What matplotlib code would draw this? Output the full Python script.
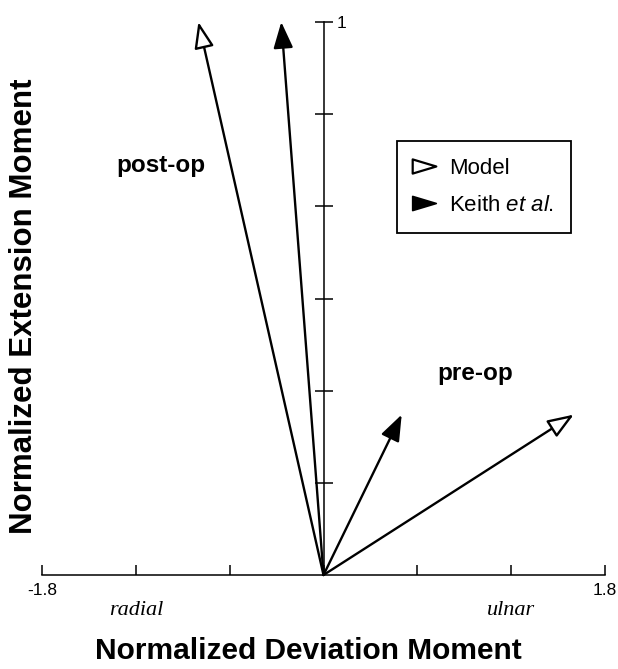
import numpy as np
import matplotlib.pyplot as plt
from matplotlib.lines import Line2D
from matplotlib.path import Path

plt.rcParams['font.family'] = ['Liberation Sans', 'DejaVu Sans']
plt.rcParams['mathtext.fontset'] = 'custom'
plt.rcParams['mathtext.rm'] = 'Liberation Sans'
plt.rcParams['mathtext.it'] = 'Liberation Sans:italic'

# Moment vectors (deviation, extension), normalized
conditions = ['post-op', 'pre-op']
model_dev = [-0.80, 1.60]
model_ext = [1.00, 0.29]
keith_dev = [-0.27, 0.50]
keith_ext = [1.00, 0.29]

x_ticks = [-1.8, -1.2, -0.6, 0.0, 0.6, 1.2, 1.8]
x_tick_labels = ['-1.8', '', '', '', '', '', '1.8']
y_ticks = [1/6, 2/6, 3/6, 4/6, 5/6, 1.0]
y_tick_labels = ['', '', '', '', '', '1']
dev_names = ['radial', 'ulnar']

fig = plt.figure(figsize=(6.18, 6.69), dpi=100)
ax = fig.add_axes([42/618, 1 - 575/669, 563/618, 553/669])
ax.set_xlim(-1.8, 1.8)
ax.set_ylim(0, 1)

# axes crossing at the origin
ax.spines['top'].set_visible(False)
ax.spines['left'].set_visible(False)
ax.spines['right'].set_position(('data', 0))
ax.spines['bottom'].set_position(('data', 0))
for s in ['right', 'bottom']:
    ax.spines[s].set_linewidth(1.1)
ax.yaxis.tick_right()
ax.set_xticks(x_ticks)
ax.set_xticklabels(x_tick_labels)
ax.set_yticks(y_ticks)
ax.set_yticklabels(y_tick_labels)
ax.tick_params(axis='x', direction='in', length=7, width=1.1, labelsize=12.5, pad=6)
ax.tick_params(axis='y', direction='inout', length=13, width=1.1, labelsize=12.5, pad=3)

def arrow(x, y, fill):
    ax.annotate('', xy=(x, y), xytext=(0, 0), annotation_clip=False,
                arrowprops=dict(arrowstyle='-|>,head_length=1.6,head_width=0.6',
                                lw=1.7, fc=fill, ec='black',
                                shrinkA=0, shrinkB=0))

for i in range(len(conditions)):
    arrow(model_dev[i], model_ext[i], 'white')
    arrow(keith_dev[i], keith_ext[i], 'black')

ax.text(-1.04, 0.729, conditions[0], fontsize=17.5, fontweight='bold', ha='center', va='baseline')
ax.text(0.97, 0.353, conditions[1], fontsize=17.5, fontweight='bold', ha='center', va='baseline')

for name, xpos in zip(dev_names, [-1.2, 1.2]):
    ax.text(xpos, -0.065, name, fontsize=16, style='italic', family='Liberation Serif',
            ha='center', va='center', clip_on=False)

tri = Path([(-1, -0.6), (1, 0), (-1, 0.6), (-1, -0.6)],
           [Path.MOVETO, Path.LINETO, Path.LINETO, Path.CLOSEPOLY])
handles = [Line2D([], [], ls='none', marker=tri, ms=17, mfc='white', mec='black', mew=1.6),
           Line2D([], [], ls='none', marker=tri, ms=17, mfc='black', mec='black', mew=1.2)]
leg = ax.legend(handles, ['Model', r'Keith $\mathit{et\ al.}$'], loc='upper left',
                bbox_to_anchor=(0.63, 0.785), borderaxespad=0, fancybox=False,
                fontsize=16, handlelength=1.0, handletextpad=0.6, borderpad=0.75,
                labelspacing=0.75, framealpha=1)
leg.get_frame().set_edgecolor('black')
leg.get_frame().set_linewidth(1.3)

fig.text(308/618, 1 - 651/669, 'Normalized Deviation Moment', fontsize=21.5,
         fontweight='bold', ha='center', va='center')
fig.text(24/618, 1 - 306/669, 'Normalized Extension Moment', fontsize=22.5,
         fontweight='bold', ha='center', va='center', rotation=90)

fig.savefig('out.png', dpi=100)
